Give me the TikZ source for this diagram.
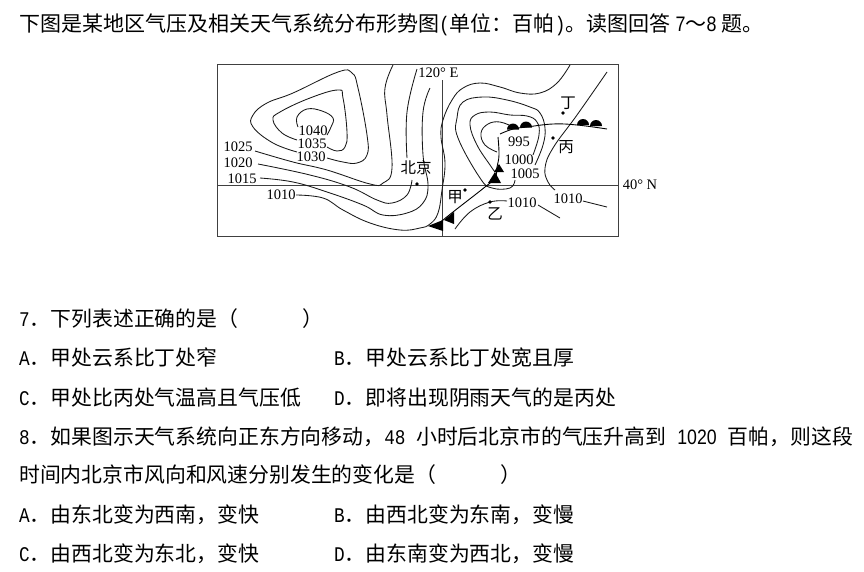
\documentclass[tikz,border=0pt]{standalone}
\usepackage{fontspec}
\setmainfont{Noto Sans CJK SC}
\newfontfamily\lat[FakeStretch=0.85]{Liberation Mono}
\newfontfamily\digits[FakeStretch=0.85]{Liberation Sans}
\newfontfamily\mapfont{Liberation Serif}
\usetikzlibrary{positioning}

\begin{document}
\begin{tikzpicture}[x=1pt, y=-1pt,
		isobar/.style={line width=0.85pt, black!90},
		frontline/.style={line width=0.9pt, black},
		thinrule/.style={line width=0.8pt, black!75},
		textline/.style={anchor=base west, inner sep=0pt, font=\fontsize{20.85}{24}\selectfont},
		maplabel/.style={inner sep=0pt, font=\mapfont\fontsize{14.5}{16}\selectfont},
		placelabel/.style={inner sep=0pt, font=\fontsize{15.5}{16}\selectfont},
		placedot/.style={circle, fill=black, inner sep=0pt, minimum size=3.6pt}
	]
		\useasboundingbox (0,0) rectangle (864,571);
		
		%question text
		\node[textline, font=\fontsize{21}{24}\selectfont] (intro) at (19,31) {下图是某地区气压及相关天气系统分布形势图{\lat(}单位：百帕{\lat)}。读图回答{\digits\hspace{5pt}7}～{\digits 8\hspace{5pt}}题。};
		\node[textline] (q7) at (19,326) {{\lat 7}．下列表述正确的是（\hspace{64pt}）};
		\node[textline] (q7a) at (19,365) {{\lat A}．甲处云系比丁处窄};
		\node[textline] (q7b) at (334,365) {{\lat B}．甲处云系比丁处宽且厚};
		\node[textline] (q7c) at (19,405) {{\lat C}．甲处比丙处气温高且气压低};
		\node[textline] (q7d) at (334,405) {{\lat D}．即将出现阴雨天气的是丙处};
		\node[textline] (q8) at (19,444) {{\lat 8}．如果图示天气系统向正东方向移动，{\lat 48\ }小时后北京市的气压升高到{\digits\hspace{11pt}1020\hspace{11pt}}百帕，则这段};
		\node[textline] (q8x) at (19,482) {时间内北京市风向和风速分别发生的变化是（\hspace{64pt}）};
		\node[textline] (q8a) at (19,522) {{\lat A}．由东北变为西南，变快};
		\node[textline] (q8b) at (334,522) {{\lat B}．由西北变为东南，变慢};
		\node[textline] (q8c) at (19,561) {{\lat C}．由西北变为东北，变快};
		\node[textline] (q8d) at (334,561) {{\lat D}．由东南变为西北，变慢};
		
		%map frame
		\draw[thinrule] (217.5,64.5) rectangle (618.5,236.5);
		\coordinate (parallelw) at (217.5,185.7);
		\coordinate (parallele) at (618.5,185.7);
		\coordinate (meridiann) at (442,80);
		\coordinate (meridians) at (442,236.5);
		\draw[thinrule] (parallelw) -- (parallele);
		\draw[thinrule] (meridiann) -- (meridians);
		
		%high
		\draw[isobar] plot[smooth, tension=0.7] coordinates {(298,127) (297,117) (307,109) (322,111) (333,118) (331,127) (327,135)};
		\draw[isobar] plot[smooth, tension=0.7] coordinates {(297,140) (282,133) (273,120) (280,112) (310,98) (338,90) (343,98) (347,132) (345,147) (337,151) (327,147)};
		\draw[isobar] plot[smooth, tension=0.7] coordinates {(297,152) (273,143) (253,127) (253,115) (267,103) (293,93) (338,72) (352,73) (358,88) (367,135) (367,155) (357,163) (343,162) (327,158)};
		
		%long isobars
		\draw[isobar] plot[smooth, tension=0.7] coordinates {(255,151) (293,162) (327,170) (370,184) (383,183) (392,168) (387,115) (385,88) (393,65)};
		\draw[isobar] plot[smooth, tension=0.7] coordinates {(258,164) (310,175) (350,187) (377,200) (392,203) (407,195) (412,180)};
		\draw[isobar] plot[smooth, tension=0.7] coordinates {(407,158) (407,112) (417,69)};
		\draw[isobar] plot[smooth, tension=0.7] coordinates {(260,178) (293,182) (327,192) (363,205) (383,215) (407,213) (423,203) (428,185) (423,155) (423,112) (430,88)};
		\draw[isobar] plot[smooth, tension=0.7] coordinates {(296,195) (323,198) (343,210) (370,223) (400,230) (420,228) (430,224) (438,213) (442,190) (445,163) (441,137) (443,120) (452,100) (463,88) (480,83) (500,87) (520,93) (540,93) (557,83) (570,65)};
		
		%low
		\draw[isobar] plot[smooth, tension=0.7] coordinates {(535,165) (543,145) (545,128) (540,113) (530,107) (507,100) (483,97) (463,102) (457,118) (458,138) (480,178) (492,188) (510,188) (515,180)};
		\draw[isobar] plot[smooth, tension=0.7] coordinates {(533,155) (539,135) (537,122) (527,116) (510,115) (490,112) (475,115) (470,125) (477,145) (490,165) (495,172)};
		\draw[isobar] plot[smooth, tension=0.7] coordinates {(513,127) (500,122) (488,124) (481,133) (485,145) (497,152)};
		
		%right side
		\draw[isobar] plot[smooth, tension=0.7] coordinates {(455,229) (470,212) (490,202) (507,201)};
		\draw[isobar] plot[smooth, tension=0.7] coordinates {(538,205) (560,218)};
		\draw[isobar] plot[smooth, tension=0.7] coordinates {(607,72) (577,115) (553,148) (545,168) (548,182) (555,190)};
		\draw[isobar] plot[smooth, tension=0.7] coordinates {(583,201) (607,207)};
		
		%fronts
		\draw[frontline] plot[smooth, tension=0.7] coordinates {(500,134) (513,129) (527,127) (553,124) (577,125) (607,129)};
		\draw[frontline] plot[smooth, tension=0.7] coordinates {(498,137) (499,155) (497,167) (495,178) (485,187) (453,212) (437,225)};
		\fill (507,129.5) arc[start angle=180, end angle=360, radius=6];
		\fill (520,127.5) arc[start angle=180, end angle=360, radius=6];
		\fill (577,125) arc[start angle=180, end angle=360, radius=6];
		\fill (590,126) arc[start angle=180, end angle=360, radius=6];
		\fill (495,172) -- (488,183) -- (501,183) -- cycle;
		\fill (499,164) -- (494,172) -- (504,172) -- cycle;
		\fill (454,212) -- (444,220) -- (454,224) -- cycle;
		\fill (443,220) -- (428,226) -- (443,231) -- cycle;
		
		%places
		\node[placedot] (beijing) at (417,184) {};
		\node[placedot] (jia) at (465,190) {};
		\node[placedot] (yi) at (490,202) {};
		\node[placedot] (bing) at (553,138) {};
		\node[placedot] (ding) at (563,113) {};
		\node[placelabel] (beijingname) at (416,168) {北京};
		\node[placelabel] (jianame) at (455,197) {甲};
		\node[placelabel] (yiname) at (495,214) {乙};
		\node[placelabel] (bingname) at (566,147) {丙};
		\node[placelabel] (dingname) at (568,103) {丁};
		
		%values
		\node[maplabel] (p1040) at (313,130.5) {1040};
		\node[maplabel] (p1035) at (312,143.5) {1035};
		\node[maplabel] (p1030) at (311,156.5) {1030};
		\node[maplabel] (p1025) at (238,147) {1025};
		\node[maplabel] (p1020) at (238,163) {1020};
		\node[maplabel] (p1015) at (242,179) {1015};
		\node[maplabel] (p1010a) at (281,195) {1010};
		\node[maplabel] (p995) at (519,142) {995};
		\node[maplabel] (p1000) at (519,160) {1000};
		\node[maplabel] (p1005) at (525,174) {1005};
		\node[maplabel] (p1010b) at (522,203) {1010};
		\node[maplabel] (p1010c) at (568,199) {1010};
		\node[maplabel] (lon) at (438.5,73) {120° E};
		\node[maplabel] (lat) at (640,185) {40° N};
	\end{tikzpicture}
\end{document}
